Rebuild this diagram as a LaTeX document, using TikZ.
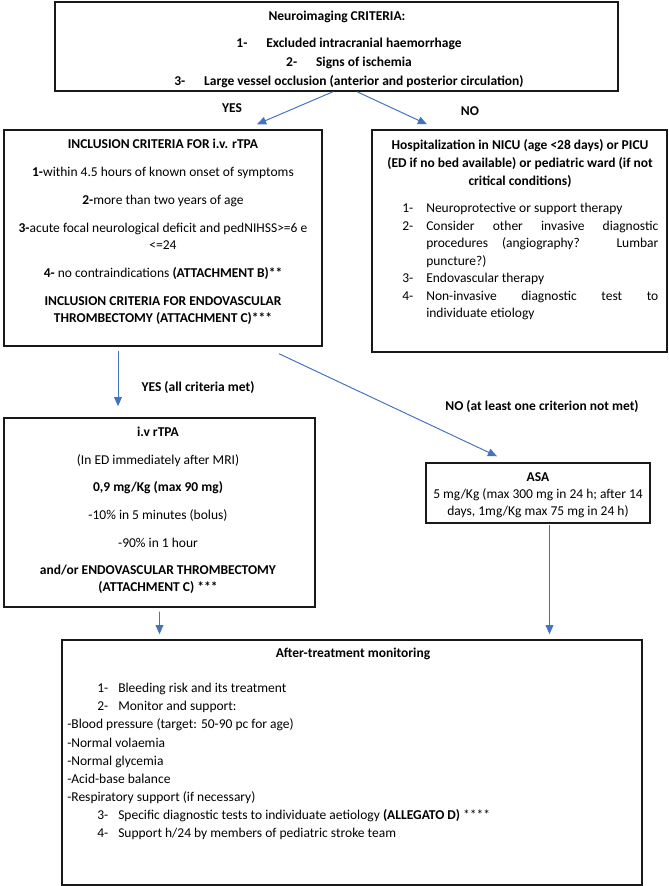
\documentclass[tikz,border=0pt]{standalone}
\usepackage{fontspec}
\setmainfont{Carlito}
\usetikzlibrary{arrows.meta,calc}
\definecolor{arrowblue}{HTML}{4472C4}
\begin{document}
\begin{tikzpicture}[x=0.025cm,y=-0.025cm,
  box/.style={draw=black!90, line width=1pt, inner sep=0pt},
  txt/.style={inner sep=0pt, align=center, font=\fontsize{9.6}{11.9}\selectfont},
  lbl/.style={inner sep=0pt, font=\fontsize{9.6}{11.9}\selectfont\bfseries},
  arr/.style={draw=arrowblue, line width=0.7pt, -{Triangle[length=6.5pt,width=5.5pt]}}]
\useasboundingbox (0,0) rectangle (669,886);
% boxes
\node[box, minimum width=14.075cm, minimum height=2.225cm] (top) at (336.5,46.5) {};
\node[box, minimum width=7.95cm, minimum height=5.4cm] (incl) at (163,238) {};
\node[box, minimum width=7.375cm, minimum height=5.55cm] (hosp) at (519.5,241) {};
\node[box, minimum width=7.775cm, minimum height=4.725cm] (tpa) at (159.5,512.5) {};
\node[box, minimum width=5.6cm, minimum height=1.5cm] (asa) at (538,493) {};
\node[box, minimum width=14.5cm, minimum height=6.125cm] (after) at (352,762.5) {};
% neuroimaging
\node[txt, anchor=north, font=\fontsize{9.6}{11.9}\selectfont\bfseries] (topT) at (337,11) {Neuroimaging CRITERIA:};
\node[txt, anchor=north, font=\fontsize{9.6}{13.4}\selectfont\bfseries] (topL) at (349,38)
  {1-\hspace{1.4em}Excluded intracranial haemorrhage\\
   2-\hspace{1.4em}Signs of ischemia\\
   3-\hspace{1.4em}Large vessel occlusion (anterior and posterior circulation)};
% inclusion criteria
\node[txt, anchor=north] (inclT) at (163,139)
  {\textbf{INCLUSION CRITERIA FOR i.v. rTPA}\\[8pt]
   \textbf{1-}within 4.5 hours of known onset of symptoms\\[8pt]
   \textbf{2-}more than two years of age\\[8pt]
   \textbf{3-}acute focal neurological deficit and pedNIHSS>=6 e\\
   <=24\\[8pt]
   \textbf{4-} no contraindications \textbf{(ATTACHMENT B)**}\\[8pt]
   \textbf{INCLUSION CRITERIA FOR ENDOVASCULAR}\\
   \textbf{THROMBECTOMY (ATTACHMENT C)***}};
% hospitalization
\node[txt, anchor=north, font=\fontsize{9.6}{12.8}\selectfont\bfseries] (hospT) at (520,139)
  {Hospitalization in NICU (age <28 days) or PICU\\
   (ED if no bed available) or pediatric ward (if not\\
   critical conditions)};
\node[txt, anchor=north west, text width=6.4cm, align=justify, font=\fontsize{9.6}{12.45}\selectfont] (hospL) at (402,203)
  {\hangindent=0.6cm\hangafter=1\noindent\makebox[0.6cm][l]{1-}Neuroprotective or support therapy\par
   \hangindent=0.6cm\hangafter=1\noindent\makebox[0.6cm][l]{2-}Consider other invasive diagnostic\linebreak procedures (angiography? Lumbar\linebreak puncture?)\par
   \hangindent=0.6cm\hangafter=1\noindent\makebox[0.6cm][l]{3-}Endovascular therapy\par
   \hangindent=0.6cm\hangafter=1\noindent\makebox[0.6cm][l]{4-}Non-invasive diagnostic test to\linebreak individuate etiology\par};
% rTPA
\node[txt, anchor=north] (tpaT) at (158,427)
  {\textbf{i.v rTPA}\\[7.7pt]
   (In ED immediately after MRI)\\[7.7pt]
   \textbf{0,9 mg/Kg (max 90 mg)}\\[7.7pt]
   -10\% in 5 minutes (bolus)\\[7.7pt]
   -90\% in 1 hour\\[7.7pt]
   \textbf{and/or ENDOVASCULAR THROMBECTOMY}\\
   \textbf{(ATTACHMENT C) ***}};
% ASA
\node[txt, anchor=north, font=\fontsize{9.6}{12.1}\selectfont] (asaT) at (538,472)
  {\textbf{ASA}\\
   5 mg/Kg (max 300 mg in 24 h; after 14\\
   days, 1mg/Kg max 75 mg in 24 h)};
% monitoring
\node[txt, anchor=north, font=\fontsize{9.6}{11.9}\selectfont\bfseries] (afterT) at (353,648) {After-treatment monitoring};
\node[txt, anchor=north west, align=left, font=\fontsize{9.6}{12.9}\selectfont] (afterL) at (67,683)
  {\hspace*{0.75cm}\makebox[0.525cm][l]{1-}Bleeding risk and its treatment\\
   \hspace*{0.75cm}\makebox[0.525cm][l]{2-}Monitor and support:\\
   -Blood pressure (target: 50-90 pc for age)\\
   -Normal volaemia\\
   -Normal glycemia\\
   -Acid-base balance\\
   -Respiratory support (if necessary)\\
   \hspace*{0.75cm}\makebox[0.525cm][l]{3-}Specific diagnostic tests to individuate aetiology \textbf{(ALLEGATO D)} ****\\
   \hspace*{0.75cm}\makebox[0.525cm][l]{4-}Support h/24 by members of pediatric stroke team};
% labels
\node[lbl] (yes1) at (232,108) {YES};
\node[lbl] (no1) at (470,111) {NO};
\node[lbl] (yes2) at (198,388) {YES (all criteria met)};
\node[lbl] (no2) at (542,407) {NO (at least one criterion not met)};
% arrows
\draw[arr] ($(top.south)+(-3.5,0)$) -- ($(incl.north)+(94,-5)$);
\draw[arr] ($(top.south)+(20.5,0)$) -- ($(hosp.north)+(-92.5,-5)$);
\draw[arr] ($(incl.south)+(-45,4)$) -- ($(tpa.north)+(-41.5,-11)$);
\draw[arr] ($(incl.south)+(116,7)$) -- ($(asa.north)+(-41,-6)$);
\draw[arr] ($(tpa.south)+(0,4)$) -- ($(after.north)+(-192.5,-5)$);
\draw[arr] ($(asa.south)+(11.5,1)$) -- ($(after.north)+(197.5,-5)$);
\end{tikzpicture}
\end{document}
